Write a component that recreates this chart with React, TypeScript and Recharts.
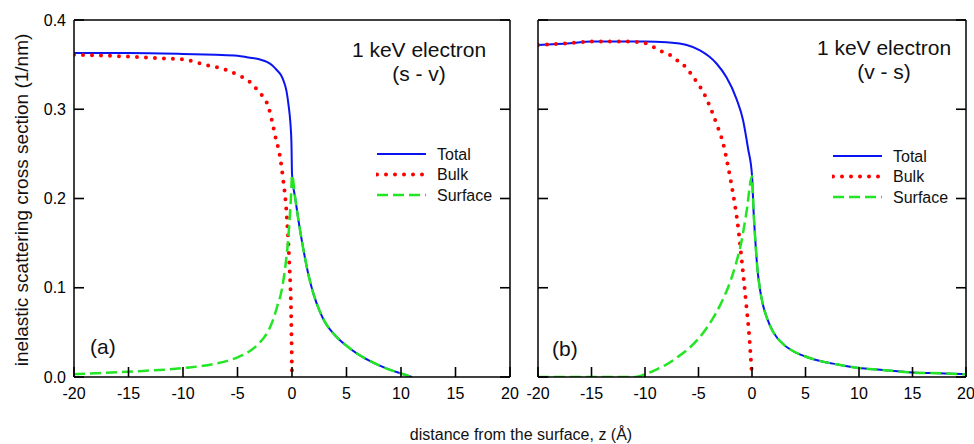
import React from 'react';
import { LineChart, Line, XAxis, YAxis, Legend } from 'recharts';

const xTicks = [-20, -15, -10, -5, 0, 5, 10, 15, 20];
const yTicks = [0, 0.1, 0.2, 0.3, 0.4];

// (a) s - v : z > 0 part is shared by Total and Surface
const zTailA = [0.3, 0.6, 1, 1.5, 2, 2.5, 3, 3.5, 4, 5, 6, 7, 8, 9, 10, 11];
const tailA = [0.2, 0.175, 0.146, 0.115, 0.092, 0.075, 0.062, 0.053, 0.046, 0.035, 0.026, 0.019, 0.013, 0.008, 0.004, 0];

const zTotalA = [-20, -15, -10, -7, -5, -4, -3, -2.3, -1.8, -1.4, -1, -0.75, -0.5, -0.3, -0.15, -0.05, 0];
const totalA = [0.363, 0.363, 0.362, 0.361, 0.36, 0.358, 0.356, 0.353, 0.349, 0.344, 0.338, 0.331, 0.32, 0.303, 0.285, 0.262, 0.228];

const zBulkA = [-20, -15, -12, -10, -8, -6, -4.7, -4, -3.2, -2.6, -2.2, -1.82, -1.52, -1.12, -0.81, -0.5, -0.26, -0.07, 0];
const bulkA = [0.361, 0.359, 0.357, 0.356, 0.35, 0.344, 0.337, 0.332, 0.322, 0.313, 0.304, 0.286, 0.269, 0.248, 0.221, 0.184, 0.131, 0.064, 0];

const zSurfA = [-20, -15, -10, -7, -5, -4, -3, -2.3, -1.8, -1.36, -0.9, -0.6, -0.38, -0.2, -0.08, 0];
const surfA = [0.003, 0.006, 0.01, 0.015, 0.022, 0.028, 0.038, 0.049, 0.062, 0.079, 0.1, 0.125, 0.15, 0.18, 0.205, 0.226];

// (b) v - s
const zTailB = [0.15, 0.3, 0.5, 0.75, 1, 1.4, 2, 3, 4, 5, 6, 8, 10, 12, 15, 18, 20];
const tailB = [0.185, 0.155, 0.122, 0.098, 0.082, 0.066, 0.05, 0.036, 0.028, 0.023, 0.019, 0.014, 0.01, 0.008, 0.005, 0.004, 0.003];

const zTotalB = [-20, -17, -15, -12, -10, -8, -6.1, -4.86, -4, -3.3, -2.4, -1.46, -0.84, -0.37, 0];
const totalB = [0.372, 0.374, 0.376, 0.376, 0.376, 0.375, 0.372, 0.366, 0.359, 0.351, 0.336, 0.312, 0.288, 0.256, 0.226];

const zBulkB = [-20, -17, -15, -12, -10, -9.25, -8.47, -7.7, -6.8, -6.1, -5.5, -4.95, -4.5, -3.8, -3.2, -2.7, -2.24, -1.78, -1.3, -0.9, -0.52, -0.28, 0];
const bulkB = [0.372, 0.374, 0.376, 0.376, 0.374, 0.37, 0.365, 0.361, 0.353, 0.346, 0.336, 0.327, 0.318, 0.299, 0.28, 0.262, 0.236, 0.206, 0.168, 0.124, 0.079, 0.049, 0];

const zSurfB = [-20, -15, -11, -10, -9, -8, -7, -6, -5, -4, -3, -2, -1.5, -1, -0.5, 0];
const surfB = [0, 0, 0, 0.003, 0.008, 0.014, 0.022, 0.031, 0.043, 0.059, 0.08, 0.108, 0.127, 0.151, 0.186, 0.225];

const series = [
  { name: 'Total', color: '#0a14f0', width: 2, dash: undefined, cap: 'butt' },
  { name: 'Bulk', color: '#ff0000', width: 4, dash: '0 9', cap: 'round' },
  { name: 'Surface', color: '#22e622', width: 2.5, dash: '11 5', cap: 'butt' },
];

const FONT = '"Liberation Sans", Arial, sans-serif';
const TICK_LEN = 10;
const X_GAP = 11;
const Y_GAP = 8;

const pts = (zs: number[], vs: number[]) => zs.map((z, i) => ({ z, v: vs[i] }));

const panelA = [
  pts([...zTotalA, ...zTailA], [...totalA, ...tailA]),
  pts(zBulkA, bulkA),
  pts([...zSurfA, ...zTailA], [...surfA, ...tailA]),
];
const panelB = [
  pts([...zTotalB, ...zTailB], [...totalB, ...tailB]),
  pts(zBulkB, bulkB),
  pts([...zSurfB, ...zTailB], [...surfB, ...tailB]),
];

// inward tick marks drawn by hand, labels optional
const bottomTick = (props: any) => {
  const { x, y, payload } = props;
  const y0 = y - X_GAP;
  return (
    <g>
      <line x1={x} x2={x} y1={y0} y2={y0 - TICK_LEN} stroke="#000" strokeWidth={1.6} />
      <text x={x} y={y} dy="0.71em" textAnchor="middle" fontSize={16} fontFamily={FONT} fill="#000">
        {payload.value}
      </text>
    </g>
  );
};
const topTick = (props: any) => (
  <line x1={props.x} x2={props.x} y1={props.y} y2={props.y + TICK_LEN} stroke="#000" strokeWidth={1.6} />
);
const leftTick = (withLabel: boolean) => (props: any) => {
  const { x, y, payload } = props;
  const x0 = x + Y_GAP;
  return (
    <g>
      <line x1={x0} x2={x0 + TICK_LEN} y1={y} y2={y} stroke="#000" strokeWidth={1.6} />
      {withLabel && (
        <text x={x} y={y} dy="0.355em" textAnchor="end" fontSize={16} fontFamily={FONT} fill="#000">
          {Number(payload.value).toFixed(1)}
        </text>
      )}
    </g>
  );
};
const rightTick = (props: any) => (
  <line x1={props.x} x2={props.x - TICK_LEN} y1={props.y} y2={props.y} stroke="#000" strokeWidth={1.6} />
);

const renderLegend = () => (
  <svg width={140} height={60} style={{ fontFamily: FONT }}>
    {series.map((s, i) => (
      <g key={s.name}>
        <line
          x1={1}
          x2={50}
          y1={8 + i * 20.5}
          y2={8 + i * 20.5}
          stroke={s.color}
          strokeWidth={s.width}
          strokeDasharray={s.dash}
          strokeLinecap={s.cap as any}
        />
        <text x={61} y={8 + i * 20.5 + 5.5} fontSize={16} fill="#111">
          {s.name}
        </text>
      </g>
    ))}
  </svg>
);

interface PanelProps {
  data: { z: number; v: number }[][];
  width: number;
  leftW: number;
  marginLeft: number;
  rightW: number;
  showYLabels: boolean;
  legendPos: { left: number; top: number };
}

function Panel({ data, width, leftW, marginLeft, rightW, showYLabels, legendPos }: PanelProps) {
  return (
    <LineChart width={width} height={444} margin={{ top: 0, right: 0, bottom: 37, left: marginLeft }}>
      <XAxis
        type="number"
        dataKey="z"
        domain={[-20, 20]}
        ticks={xTicks}
        interval={0}
        allowDataOverflow
        stroke="#000"
        strokeWidth={1.5}
        tickLine={false}
        tickSize={0}
        tickMargin={X_GAP}
        height={30}
        tick={bottomTick}
      />
      <XAxis
        xAxisId="top"
        orientation="top"
        type="number"
        domain={[-20, 20]}
        ticks={xTicks}
        interval={0}
        allowDataOverflow
        stroke="#000"
        strokeWidth={1.5}
        tickLine={false}
        tickSize={0}
        tickMargin={0}
        tick={topTick}
        height={20}
      />
      <YAxis
        type="number"
        domain={[0, 0.4]}
        ticks={yTicks}
        interval={0}
        allowDataOverflow
        stroke="#000"
        strokeWidth={1.5}
        tickLine={false}
        tickSize={0}
        tickMargin={Y_GAP}
        width={leftW}
        tick={leftTick(showYLabels)}
      />
      <YAxis
        yAxisId="right"
        orientation="right"
        type="number"
        domain={[0, 0.4]}
        ticks={yTicks}
        interval={0}
        allowDataOverflow
        stroke="#000"
        strokeWidth={1.5}
        tickLine={false}
        tickSize={0}
        tickMargin={0}
        tick={rightTick}
        width={rightW}
      />
      {series.map((s, i) => (
        <Line
          key={s.name}
          name={s.name}
          data={data[i]}
          dataKey="v"
          type="monotone"
          stroke={s.color}
          strokeWidth={s.width}
          strokeDasharray={s.dash}
          strokeLinecap={s.cap as any}
          dot={false}
          activeDot={false}
          isAnimationActive={false}
        />
      ))}
      <Legend
        layout="horizontal"
        verticalAlign="middle"
        align="center"
        content={renderLegend}
        wrapperStyle={{ left: legendPos.left, top: legendPos.top, width: 140, height: 60 }}
      />
    </LineChart>
  );
}

export default function App() {
  const t = { fontFamily: FONT, fill: '#111' };
  return (
    <div style={{ position: 'absolute', left: 0, top: 0, width: 974, height: 444, background: '#fff' }}>
      <div style={{ position: 'absolute', left: 0, top: 0 }}>
        <Panel data={panelA} width={520} leftW={40} marginLeft={34} rightW={10} showYLabels legendPos={{ left: 376, top: 146 }} />
      </div>
      <div style={{ position: 'absolute', left: 520, top: 0 }}>
        <Panel data={panelB} width={454} leftW={18} marginLeft={0} rightW={8} showYLabels={false} legendPos={{ left: 312, top: 148 }} />
      </div>
      <svg width={974} height={444} style={{ position: 'absolute', left: 0, top: 0, pointerEvents: 'none' }}>
        <text x={419} y={57} fontSize={21} textAnchor="middle" {...t}>1 keV electron</text>
        <text x={419} y={81} fontSize={21} textAnchor="middle" {...t}>(s - v)</text>
        <text x={884} y={55} fontSize={21} textAnchor="middle" {...t}>1 keV electron</text>
        <text x={884} y={79} fontSize={21} textAnchor="middle" {...t}>(v - s)</text>
        <text x={90} y={354} fontSize={21} {...t}>(a)</text>
        <text x={552} y={356} fontSize={21} {...t}>(b)</text>
        <text x={28} y={200} fontSize={19} textAnchor="middle" transform="rotate(-90 28 200)" {...t}>
          inelastic scattering cross section (1/nm)
        </text>
        <text x={521} y={440} fontSize={16} textAnchor="middle" {...t}>
          distance from the surface, z (Å)
        </text>
      </svg>
    </div>
  );
}
